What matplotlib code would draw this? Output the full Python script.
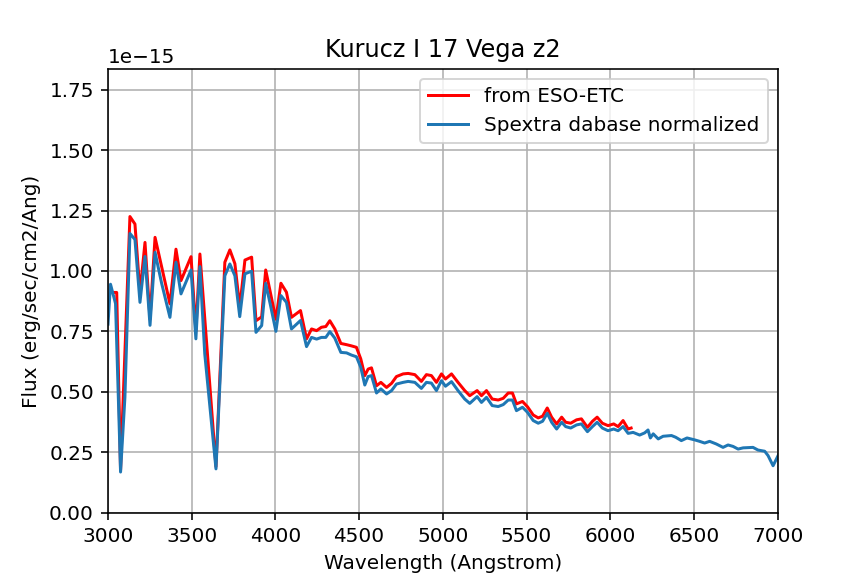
import matplotlib
matplotlib.use("Agg")
import matplotlib.pyplot as plt
import numpy as np

blue_wl = [3000, 3015, 3045, 3075, 3101, 3131, 3161, 3191, 3221, 3251, 3281, 3320, 3370,
           3406, 3436, 3496, 3525, 3549, 3578, 3645, 3698, 3728, 3758, 3787, 3818, 3858,
           3884, 3918, 3942, 3970, 4003, 4033, 4066, 4096, 4150, 4186, 4216, 4246, 4275,
           4301, 4325, 4355, 4391, 4425, 4454, 4484, 4510, 4534, 4554, 4574, 4604, 4630,
           4664, 4694, 4723, 4763, 4793, 4833, 4872, 4902, 4932, 4962, 4992, 5016, 5052,
           5091, 5131, 5161, 5205, 5231, 5261, 5295, 5331, 5361, 5391, 5416, 5440, 5476,
           5506, 5540, 5570, 5596, 5624, 5650, 5680, 5710, 5734, 5764, 5799, 5828, 5864,
           5894, 5922, 5953, 5987, 6021, 6047, 6077, 6107, 6137, 6176, 6206, 6226, 6240,
           6257, 6287, 6316, 6366, 6391, 6425, 6459, 6505, 6534, 6564, 6594, 6634, 6674,
           6704, 6734, 6764, 6794, 6853, 6883, 6923, 6943, 6973, 6993, 7020]
blue_flux = [0.78, 0.945, 0.865, 0.168, 0.477, 1.155, 1.13, 0.87, 1.06, 0.775, 1.077, 0.95, 0.808,
             1.036, 0.905, 1.004, 0.719, 1.018, 0.657, 0.181, 0.98, 1.029, 0.98, 0.811, 0.988, 0.999,
             0.746, 0.774, 0.949, 0.86, 0.75, 0.898, 0.87, 0.76, 0.795, 0.687, 0.725, 0.718, 0.725,
             0.725, 0.749, 0.722, 0.663, 0.661, 0.652, 0.645, 0.601, 0.528, 0.563, 0.567, 0.495, 0.512,
             0.491, 0.505, 0.532, 0.539, 0.543, 0.539, 0.514, 0.539, 0.536, 0.505, 0.546, 0.523, 0.542,
             0.505, 0.47, 0.452, 0.48, 0.456, 0.477, 0.443, 0.439, 0.447, 0.466, 0.466, 0.422, 0.436,
             0.415, 0.381, 0.37, 0.378, 0.411, 0.374, 0.346, 0.374, 0.356, 0.35, 0.363, 0.367, 0.335,
             0.356, 0.374, 0.35, 0.339, 0.346, 0.339, 0.356, 0.328, 0.332, 0.321, 0.33, 0.342, 0.309,
             0.326, 0.305, 0.316, 0.319, 0.312, 0.298, 0.309, 0.301, 0.295, 0.288, 0.295, 0.284, 0.27,
             0.28, 0.274, 0.263, 0.268, 0.27, 0.259, 0.254, 0.236, 0.194, 0.222, 0.26]

red_wl = [3032, 3052, 3075, 3131, 3161, 3191, 3221, 3251, 3281, 3370, 3406, 3436, 3496, 3525,
          3549, 3645, 3698, 3728, 3758, 3787, 3818, 3858, 3884, 3918, 3942, 4003, 4033, 4066,
          4096, 4150, 4186, 4216, 4246, 4275, 4301, 4325, 4355, 4391, 4425, 4454, 4484, 4510,
          4534, 4554, 4574, 4604, 4630, 4664, 4694, 4723, 4763, 4793, 4833, 4872, 4902, 4932,
          4962, 4992, 5016, 5052, 5091, 5131, 5161, 5205, 5231, 5261, 5295, 5331, 5361, 5391,
          5416, 5440, 5476, 5506, 5540, 5570, 5596, 5624, 5650, 5680, 5710, 5734, 5764, 5799,
          5828, 5864, 5894, 5922, 5953, 5987, 6021, 6047, 6077, 6107, 6125]
red_flux = [0.911, 0.911, 0.175, 1.225, 1.194, 0.91, 1.118, 0.80, 1.139, 0.864, 1.09, 0.96, 1.059, 0.75,
            1.07, 0.19, 1.036, 1.087, 1.03, 0.85, 1.045, 1.057, 0.794, 0.81, 1.004, 0.80, 0.949, 0.912,
            0.808, 0.836, 0.719, 0.76, 0.753, 0.767, 0.77, 0.794, 0.76, 0.70, 0.695, 0.69, 0.684, 0.636,
            0.567, 0.594, 0.599, 0.525, 0.539, 0.518, 0.535, 0.563, 0.574, 0.576, 0.571, 0.543, 0.571, 0.567,
            0.539, 0.574, 0.553, 0.574, 0.539, 0.505, 0.484, 0.505, 0.484, 0.505, 0.47, 0.466, 0.473, 0.495,
            0.495, 0.45, 0.46, 0.438, 0.404, 0.392, 0.399, 0.433, 0.395, 0.367, 0.395, 0.374, 0.37, 0.384,
            0.388, 0.353, 0.378, 0.395, 0.37, 0.36, 0.367, 0.356, 0.381, 0.346, 0.35]

scale = 1e-15

fig, ax = plt.subplots(figsize=(6, 4), dpi=144)
ax.plot(red_wl, np.array(red_flux) * scale, color="red", label="from ESO-ETC")
ax.plot(blue_wl, np.array(blue_flux) * scale, color="#1f77b4", label="Spextra dabase normalized")
ax.set_xlim(3000, 7000)
ax.set_ylim(0, 1.835e-15)
ax.set_title("Kurucz I 17 Vega z2")
ax.set_xlabel("Wavelength (Angstrom)")
ax.set_ylabel("Flux (erg/sec/cm2/Ang)")
ax.grid(True)
ax.legend(loc="upper right")
fig.savefig("out.png", dpi=144)
